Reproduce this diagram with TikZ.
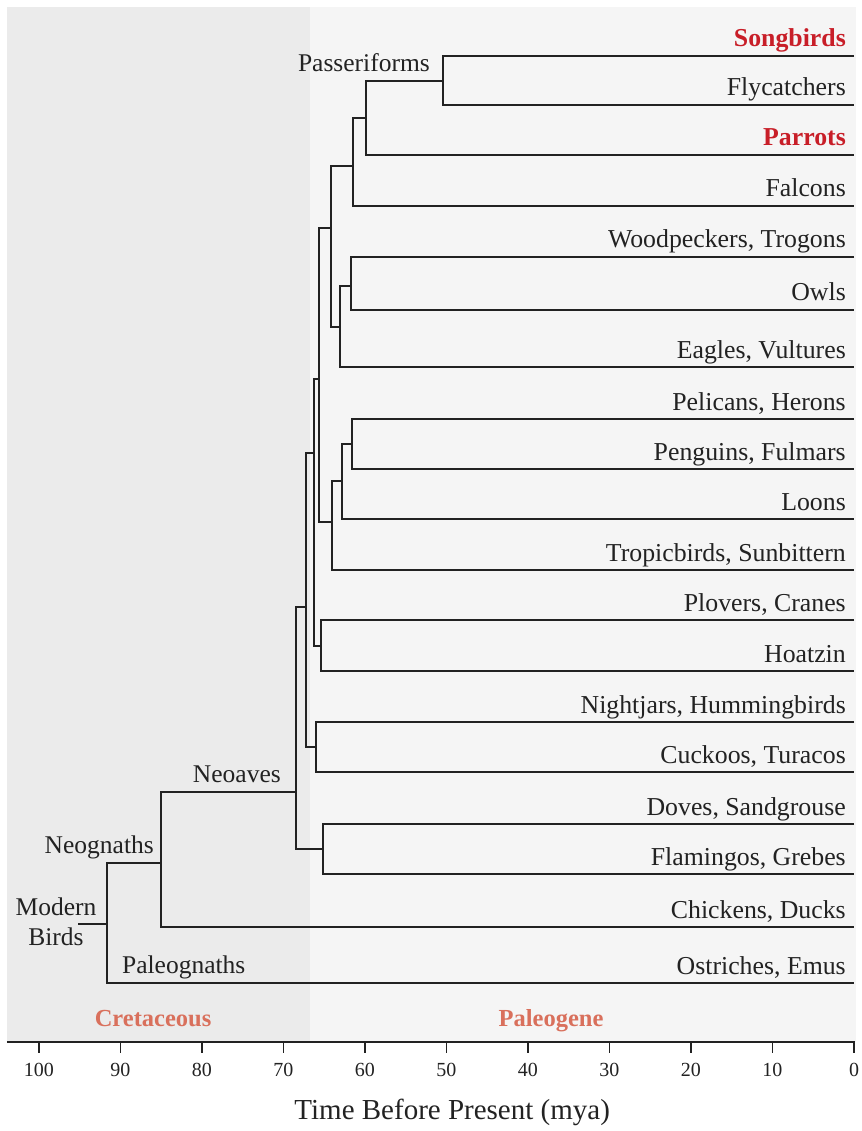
\documentclass[tikz,border=0pt]{standalone}
\usepackage{fontspec}
\setmainfont{Liberation Serif}
\usepackage{xcolor}
\usetikzlibrary{positioning}

\definecolor{eracolor}{RGB}{217,112,92}
\definecolor{focuscolor}{RGB}{200,30,40}
\definecolor{cretfill}{RGB}{235,235,235}
\definecolor{paleofill}{RGB}{245,245,245}
\definecolor{inkcolor}{RGB}{34,34,34}

\newcommand{\keytaxon}[1]{\textbf{\color{focuscolor}#1}}

\begin{document}
\begin{tikzpicture}[x=-8.15pt, y=-1pt,
		branch/.style={draw=inkcolor, line width=1.8pt},
		taxon/.style={anchor=base east, inner sep=0pt, text=inkcolor, font=\fontsize{25.8}{30}\selectfont},
		clade/.style={inner sep=0pt, text=inkcolor, align=center, font=\fontsize{25.5}{30}\selectfont},
		eralabel/.style={anchor=base, inner sep=0pt, text=eracolor, font=\fontsize{24.5}{29}\selectfont\bfseries},
		ticklabel/.style={inner sep=0pt, text=inkcolor, font=\fontsize{20}{24}\selectfont}
		]
		\useasboundingbox (104.785,0) rectangle (-0.859,1131);
		
		\fill[cretfill] (103.93,7) rectangle (66.75,1042);
		\fill[paleofill] (66.75,7) rectangle (-0.25,1042);
		
		% tips of the tree, time 0
		\foreach \id/\ypos/\txt in {songbirds/56/{\keytaxon{Songbirds}}, flycatchers/105/Flycatchers,
			parrots/155/{\keytaxon{Parrots}}, falcons/206/Falcons,
			woodpeckers/257/{Woodpeckers, Trogons}, owls/310/Owls, eagles/367/{Eagles, Vultures},
			pelicans/419/{Pelicans, Herons}, penguins/469/{Penguins, Fulmars}, loons/519/Loons,
			tropicbirds/570/{Tropicbirds, Sunbittern}, plovers/620/{Plovers, Cranes}, hoatzin/671/Hoatzin,
			nightjars/722/{Nightjars, Hummingbirds}, cuckoos/772/{Cuckoos, Turacos},
			doves/824/{Doves, Sandgrouse}, flamingos/874/{Flamingos, Grebes},
			chickens/927/{Chickens, Ducks}, ostriches/983/{Ostriches, Emus}}
		{
			\coordinate (\id) at (0,\ypos);
			\node[taxon, xshift=-8pt, yshift=9pt] (\id-lbl) at (\id) {\txt};
		}
		
		% splits, in mya
		\coordinate (passeriforms) at (50.43,81);
		\coordinate (psittaco) at (59.88,118);
		\coordinate (eufalcon) at (61.47,166);
		\coordinate (coracii) at (61.72,286);
		\coordinate (afroaves) at (63.07,327);
		\coordinate (telluraves) at (64.17,228);
		\coordinate (pelecani) at (61.6,444);
		\coordinate (aequorn) at (62.82,481);
		\coordinate (waterbirds) at (64.05,522);
		\coordinate (landwater) at (65.64,379);
		\coordinate (gruae) at (65.4,646);
		\coordinate (passerea) at (66.26,453);
		\coordinate (otidae) at (66.0,747);
		\coordinate (coreaves) at (67.24,607);
		\coordinate (columbea) at (65.15,849);
		\coordinate (neoaves) at (68.47,792);
		\coordinate (neognaths) at (85.03,863);
		\coordinate (modern) at (91.66,924);
		\coordinate (stem) at (95.21,924);
		
		\draw[branch] (songbirds) -| (passeriforms) |- (flycatchers);
		\draw[branch] (passeriforms) -| (psittaco) |- (parrots);
		\draw[branch] (psittaco) -| (eufalcon) |- (falcons);
		\draw[branch] (woodpeckers) -| (coracii) |- (owls);
		\draw[branch] (coracii) -| (afroaves) |- (eagles);
		\draw[branch] (eufalcon) -| (telluraves) |- (afroaves);
		\draw[branch] (pelicans) -| (pelecani) |- (penguins);
		\draw[branch] (pelecani) -| (aequorn) |- (loons);
		\draw[branch] (aequorn) -| (waterbirds) |- (tropicbirds);
		\draw[branch] (telluraves) -| (landwater) |- (waterbirds);
		\draw[branch] (plovers) -| (gruae) |- (hoatzin);
		\draw[branch] (landwater) -| (passerea) |- (gruae);
		\draw[branch] (nightjars) -| (otidae) |- (cuckoos);
		\draw[branch] (passerea) -| (coreaves) |- (otidae);
		\draw[branch] (doves) -| (columbea) |- (flamingos);
		\draw[branch] (coreaves) -| (neoaves) |- (columbea);
		\draw[branch] (neoaves) -| (neognaths) |- (chickens);
		\draw[branch] (neognaths) -| (modern) |- (ostriches);
		\draw[branch] (stem) -- (modern);
		
		\node[clade, anchor=base east, xshift=-13pt, yshift=9pt] (passeriforms-lbl) at (passeriforms) {Passeriforms};
		\node[clade, anchor=base east, xshift=-15pt, yshift=10pt] (neoaves-lbl) at (neoaves) {Neoaves};
		\node[clade, anchor=base east, xshift=-7pt, yshift=10pt] (neognaths-lbl) at (neognaths) {Neognaths};
		\node[clade, anchor=base west, xshift=15pt, yshift=10pt] (paleognaths-lbl) at (modern |- ostriches) {Paleognaths};
		\node[clade, xshift=-22pt, yshift=2.5pt] (modern-lbl) at (stem) {Modern\\Birds};
		
		\node[eralabel] (cretaceous) at (86.0,1026) {Cretaceous};
		\node[eralabel] (paleogene) at (37.18,1026) {Paleogene};
		
		% time axis
		\draw[draw=inkcolor, line width=2.6pt] (103.93,1042) -- (-0.15,1042);
		\foreach \t in {0,10,...,100}
		{
			\draw[draw=inkcolor, line width=1.8pt] (\t,1042) -- (\t,1053);
			\node[ticklabel] at (\t,1070) {\t};
		}
		\node[inner sep=0pt, text=inkcolor, font=\fontsize{29}{34}\selectfont] (axis-title) at (49.3,1112) {Time Before Present (mya)};
		
	\end{tikzpicture}
\end{document}
